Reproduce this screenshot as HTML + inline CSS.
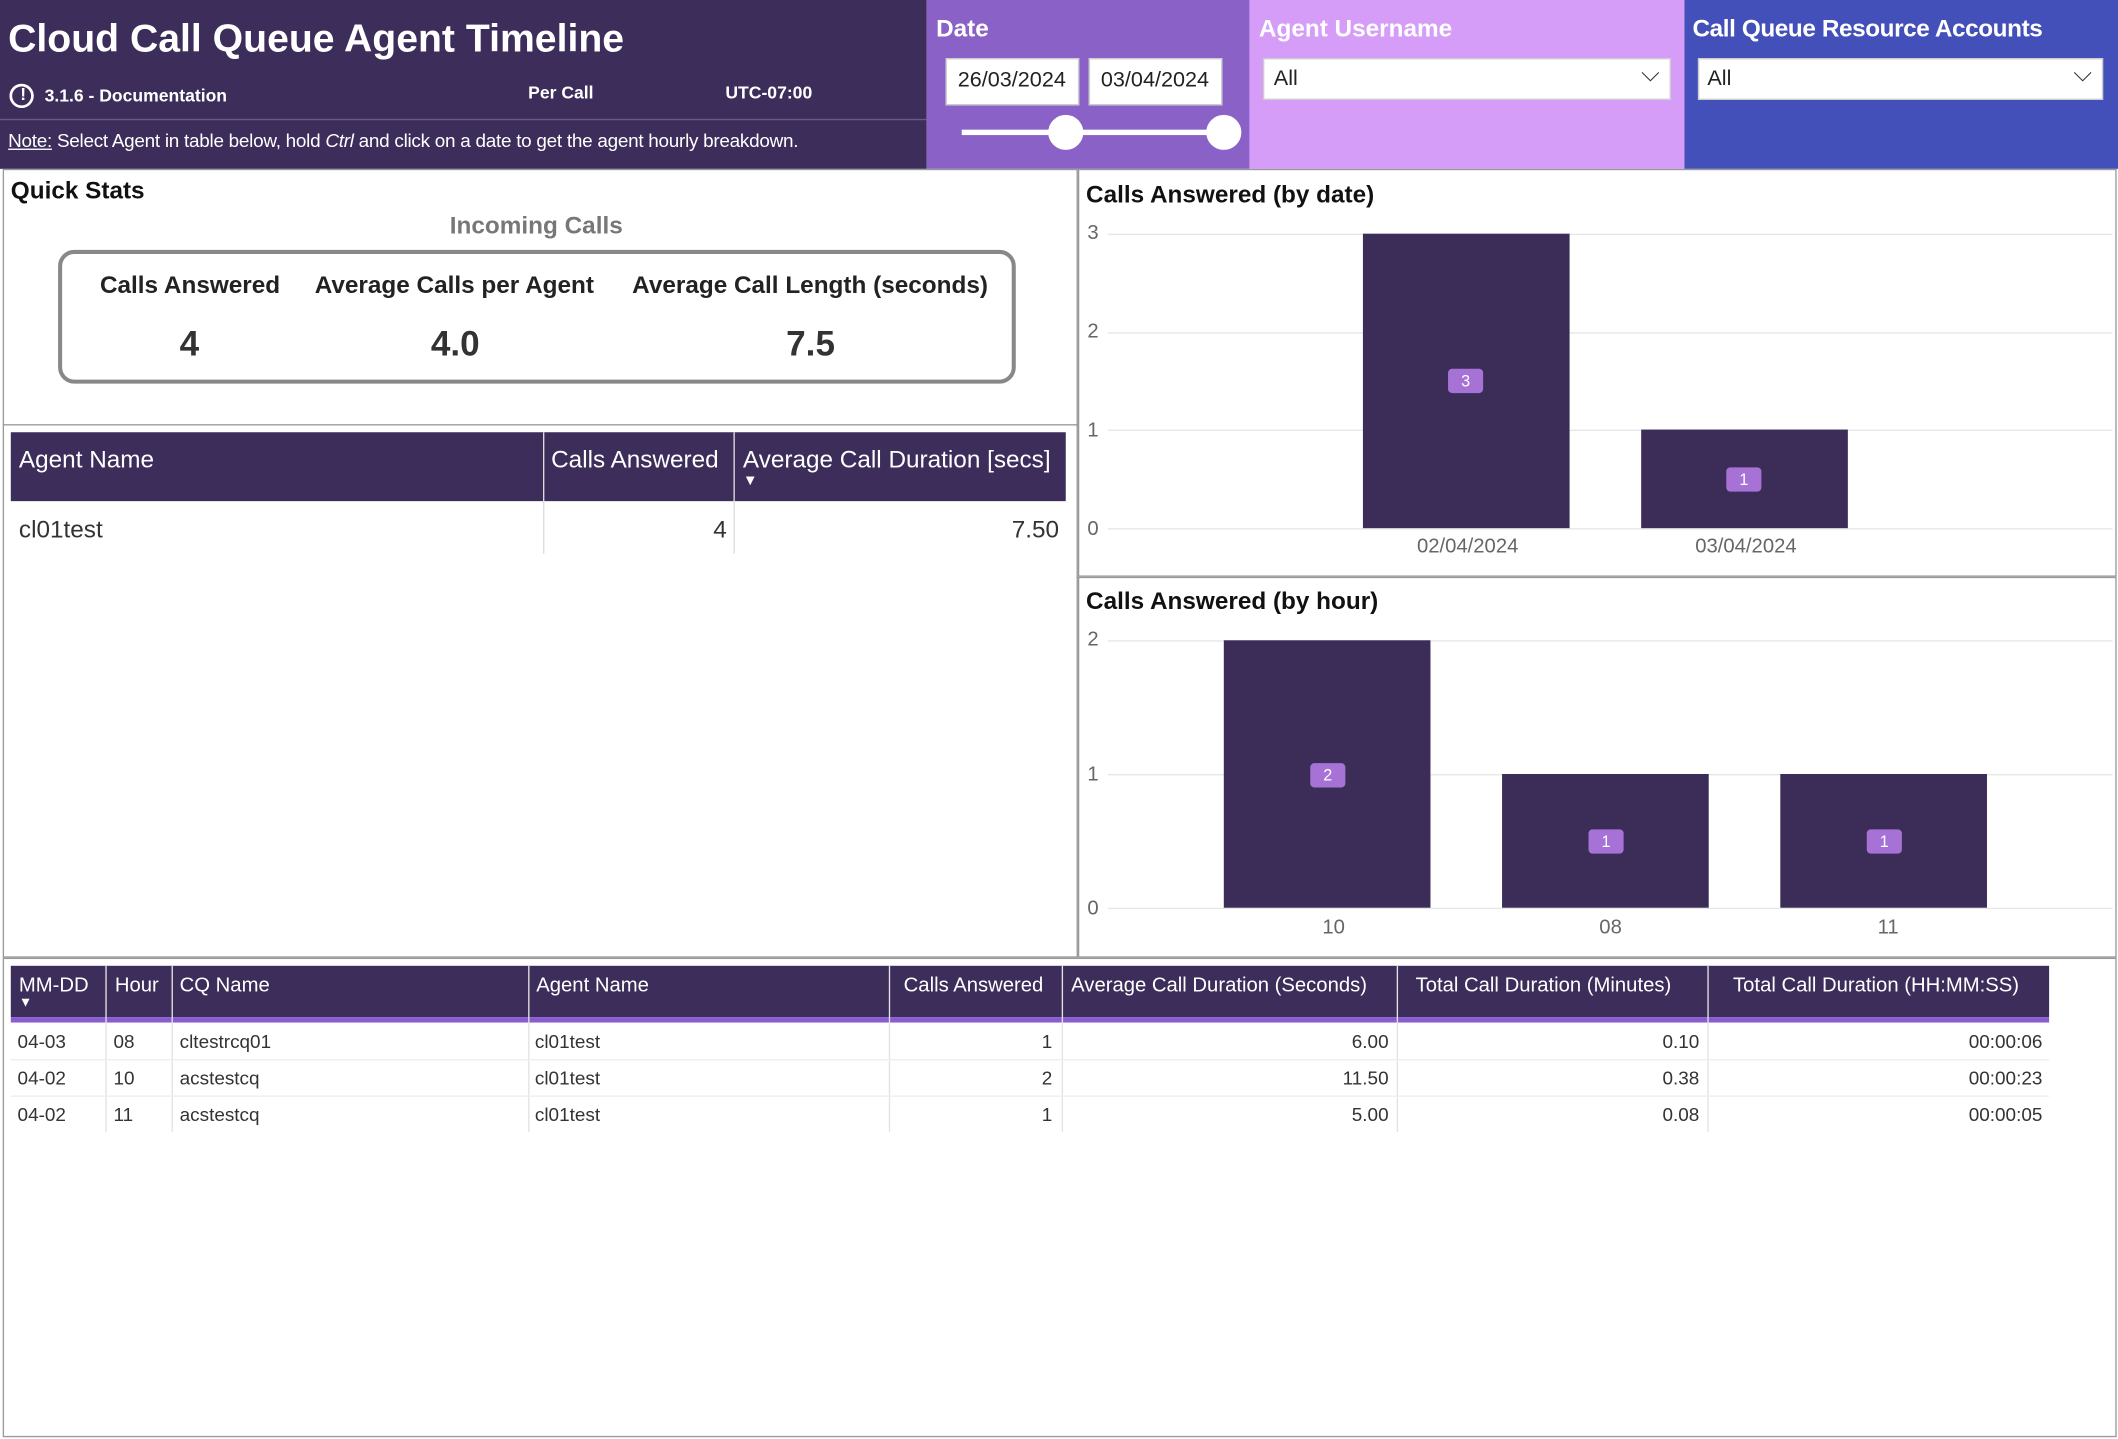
<!DOCTYPE html>
<html><head><meta charset="utf-8"><style>
*{box-sizing:border-box;margin:0;padding:0}
body{width:2118px;height:1438px;overflow:hidden;background:#fff;font-family:"Liberation Sans",sans-serif}
#w{position:absolute;left:0;top:0;width:1568px;height:1065px;transform:scale(1.35077);transform-origin:0 0}
.a{position:absolute}
.t{position:absolute;white-space:nowrap}
.bar{position:absolute;background:#3b2d58}
.badge{position:absolute;background:#a672d6;color:#fff;font-size:12px;width:26px;height:18px;line-height:18px;text-align:center;border-radius:3px}
.gl{position:absolute;height:1px;background:#e6e6e6}
.ax{position:absolute;font-size:15px;color:#666}
.th{position:absolute;color:#fff;font-size:15px}
.td{position:absolute;font-size:14px;color:#333}
</style></head><body><div id="w">
<div class="a" style="left:0;top:0;width:686px;height:125px;background:#3c2d5a"></div>
<div class="t" style="left:6px;top:13px;font-size:29px;font-weight:bold;color:#fff">Cloud Call Queue Agent Timeline</div>
<div class="a" style="left:7px;top:62px;width:18px;height:18px;border:2px solid #fff;border-radius:50%"></div>
<div class="t" style="left:15px;top:62px;font-size:13px;font-weight:bold;color:#fff">!</div>
<div class="t" style="left:33px;top:63px;font-size:13px;font-weight:bold;color:#fff">3.1.6 - Documentation</div>
<div class="t" style="left:391px;top:61px;font-size:13px;font-weight:bold;color:#fff">Per Call</div>
<div class="t" style="left:537px;top:61px;font-size:13px;font-weight:bold;color:#fff">UTC-07:00</div>
<div class="a" style="left:0;top:88px;width:686px;height:1px;background:#6a5a88"></div>
<div class="t" style="left:6px;top:96px;font-size:14px;color:#fff;letter-spacing:-0.2px"><u>Note:</u> Select Agent in table below, hold <i>Ctrl</i> and click on a date to get the agent hourly breakdown.</div>

<div class="a" style="left:686px;top:0;width:239px;height:125px;background:#8a62c7"></div>
<div class="t" style="left:693px;top:11px;font-size:18px;font-weight:bold;color:#fff">Date</div>
<div class="a" style="left:700px;top:43px;width:99px;height:35px;background:#fff;border:1px solid #ccc"></div>
<div class="t" style="left:709px;top:51px;font-size:16px;color:#222">26/03/2024</div>
<div class="a" style="left:806px;top:43px;width:99px;height:35px;background:#fff;border:1px solid #ccc"></div>
<div class="t" style="left:815px;top:51px;font-size:16px;color:#222">03/04/2024</div>
<div class="a" style="left:712px;top:96px;width:194px;height:4px;background:#fff"></div>
<div class="a" style="left:776px;top:85px;width:26px;height:26px;border-radius:50%;background:#fff"></div>
<div class="a" style="left:893px;top:85px;width:26px;height:26px;border-radius:50%;background:#fff"></div>

<div class="a" style="left:925px;top:0;width:322px;height:125px;background:#d59df8"></div>
<div class="t" style="left:932px;top:11px;font-size:18px;font-weight:bold;color:#fff">Agent Username</div>
<div class="a" style="left:935px;top:43px;width:302px;height:31px;background:#fff;border:1px solid #ccc"></div>
<div class="t" style="left:943px;top:50px;font-size:16px;color:#222">All</div>
<div class="t" style="left:1215px;top:44px;font-size:18px;color:#333">&#x2335;</div>

<div class="a" style="left:1247px;top:0;width:321px;height:125px;background:#4450b9"></div>
<div class="t" style="left:1253px;top:11px;font-size:18px;font-weight:bold;color:#fff;letter-spacing:-0.3px">Call Queue Resource Accounts</div>
<div class="a" style="left:1257px;top:43px;width:300px;height:31px;background:#fff;border:1px solid #ccc"></div>
<div class="t" style="left:1264px;top:50px;font-size:16px;color:#222">All</div>
<div class="t" style="left:1535px;top:44px;font-size:18px;color:#333">&#x2335;</div>

<div class="a" style="left:2px;top:125px;width:796px;height:584px;border:1px solid #999"></div>
<div class="t" style="left:8px;top:131px;font-size:18px;font-weight:bold;color:#111">Quick Stats</div>
<div class="t" style="left:333px;top:157px;font-size:18px;font-weight:bold;color:#777">Incoming Calls</div>
<div class="a" style="left:43px;top:185px;width:709px;height:99px;border:3px solid #888;border-radius:12px"></div>
<div class="t" style="left:74px;top:201px;font-size:18px;font-weight:bold;color:#222">Calls Answered</div>
<div class="t" style="left:233px;top:201px;font-size:18px;font-weight:bold;color:#222">Average Calls per Agent</div>
<div class="t" style="left:468px;top:201px;font-size:18px;font-weight:bold;color:#222">Average Call Length (seconds)</div>
<div class="t" style="left:133px;top:239px;font-size:26px;font-weight:bold;color:#333">4</div>
<div class="t" style="left:319px;top:239px;font-size:26px;font-weight:bold;color:#333">4.0</div>
<div class="t" style="left:582px;top:239px;font-size:26px;font-weight:bold;color:#333">7.5</div>
<div class="a" style="left:2px;top:314px;width:796px;height:1px;background:#999"></div>
<div class="a" style="left:8px;top:320px;width:781px;height:51px;background:#3c2d5a"></div>
<div class="a" style="left:402px;top:320px;width:1px;height:90px;background:#ddd"></div>
<div class="a" style="left:543px;top:320px;width:1px;height:90px;background:#ddd"></div>
<div class="th" style="left:14px;top:330px;font-size:18px">Agent Name</div>
<div class="th" style="left:408px;top:330px;font-size:18px">Calls Answered</div>
<div class="th" style="left:550px;top:330px;font-size:18px">Average Call Duration [secs]</div>
<div class="t" style="left:550px;top:350px;font-size:11px;color:#fff">&#9660;</div>
<div class="t" style="left:14px;top:382px;font-size:18px;color:#333">cl01test</div>
<div class="t" style="left:528px;top:382px;font-size:18px;color:#333">4</div>
<div class="t" style="left:749px;top:382px;font-size:18px;color:#333">7.50</div>

<div class="a" style="left:798px;top:125px;width:769px;height:302px;border:1px solid #999"></div>
<div class="t" style="left:804px;top:134px;font-size:18px;font-weight:bold;color:#111">Calls Answered (by date)</div>
<div class="gl" style="left:820px;top:173px;width:744px"></div>
<div class="gl" style="left:820px;top:246px;width:744px"></div>
<div class="gl" style="left:820px;top:318px;width:744px"></div>
<div class="gl" style="left:820px;top:391px;width:744px"></div>
<div class="ax" style="left:805px;top:164px">3</div><div class="ax" style="left:805px;top:237px">2</div>
<div class="ax" style="left:805px;top:310px">1</div><div class="ax" style="left:805px;top:383px">0</div>
<div class="bar" style="left:1009px;top:173px;width:153px;height:218px"></div>
<div class="bar" style="left:1215px;top:318px;width:153px;height:73px"></div>
<div class="badge" style="left:1072px;top:273px">3</div>
<div class="badge" style="left:1278px;top:346px">1</div>
<div class="ax" style="left:1049px;top:396px">02/04/2024</div>
<div class="ax" style="left:1255px;top:396px">03/04/2024</div>

<div class="a" style="left:798px;top:427px;width:769px;height:282px;border:1px solid #999"></div>
<div class="t" style="left:804px;top:435px;font-size:18px;font-weight:bold;color:#111">Calls Answered (by hour)</div>
<div class="gl" style="left:820px;top:474px;width:744px"></div>
<div class="gl" style="left:820px;top:573px;width:744px"></div>
<div class="gl" style="left:820px;top:672px;width:744px"></div>
<div class="ax" style="left:805px;top:465px">2</div><div class="ax" style="left:805px;top:565px">1</div><div class="ax" style="left:805px;top:664px">0</div>
<div class="bar" style="left:906px;top:474px;width:153px;height:198px"></div>
<div class="bar" style="left:1112px;top:573px;width:153px;height:99px"></div>
<div class="bar" style="left:1318px;top:573px;width:153px;height:99px"></div>
<div class="badge" style="left:970px;top:565px">2</div>
<div class="badge" style="left:1176px;top:614px">1</div>
<div class="badge" style="left:1382px;top:614px">1</div>
<div class="ax" style="left:979px;top:678px">10</div>
<div class="ax" style="left:1184px;top:678px">08</div>
<div class="ax" style="left:1390px;top:678px">11</div>

<div class="a" style="left:2px;top:709px;width:1565px;height:355px;border:1px solid #999"></div>
<div class="a" style="left:8px;top:715px;width:1509px;height:38px;background:#3c2d5a"></div>
<div class="a" style="left:8px;top:753px;width:1509px;height:4px;background:#8a5cd0"></div>
<div class="th" style="left:14px;top:721px">MM-DD</div>
<div class="t" style="left:14px;top:737px;font-size:10px;color:#fff">&#9660;</div>
<div class="th" style="left:85px;top:721px">Hour</div>
<div class="th" style="left:133px;top:721px">CQ Name</div>
<div class="th" style="left:397px;top:721px">Agent Name</div>
<div class="th" style="left:669px;top:721px">Calls Answered</div>
<div class="th" style="left:793px;top:721px">Average Call Duration (Seconds)</div>
<div class="th" style="left:1048px;top:721px">Total Call Duration (Minutes)</div>
<div class="th" style="left:1283px;top:721px">Total Call Duration (HH:MM:SS)</div>
<div class="a" style="left:78px;top:715px;width:1px;height:123px;background:#e3e3e3"></div>
<div class="a" style="left:127px;top:715px;width:1px;height:123px;background:#e3e3e3"></div>
<div class="a" style="left:391px;top:715px;width:1px;height:123px;background:#e3e3e3"></div>
<div class="a" style="left:658px;top:715px;width:1px;height:123px;background:#e3e3e3"></div>
<div class="a" style="left:786px;top:715px;width:1px;height:123px;background:#e3e3e3"></div>
<div class="a" style="left:1034px;top:715px;width:1px;height:123px;background:#e3e3e3"></div>
<div class="a" style="left:1264px;top:715px;width:1px;height:123px;background:#e3e3e3"></div>
<div class="a" style="left:8px;top:784px;width:1509px;height:1px;background:#eee"></div>
<div class="a" style="left:8px;top:811px;width:1509px;height:1px;background:#eee"></div>

<div class="td" style="left:13px;top:763px">04-03</div><div class="td" style="left:84px;top:763px">08</div><div class="td" style="left:133px;top:763px">cltestrcq01</div><div class="td" style="left:396px;top:763px">cl01test</div>
<div class="td" style="right:789px;top:763px">1</div><div class="td" style="right:540px;top:763px">6.00</div><div class="td" style="right:310px;top:763px">0.10</div><div class="td" style="right:56px;top:763px">00:00:06</div>
<div class="td" style="left:13px;top:790px">04-02</div><div class="td" style="left:84px;top:790px">10</div><div class="td" style="left:133px;top:790px">acstestcq</div><div class="td" style="left:396px;top:790px">cl01test</div>
<div class="td" style="right:789px;top:790px">2</div><div class="td" style="right:540px;top:790px">11.50</div><div class="td" style="right:310px;top:790px">0.38</div><div class="td" style="right:56px;top:790px">00:00:23</div>
<div class="td" style="left:13px;top:817px">04-02</div><div class="td" style="left:84px;top:817px">11</div><div class="td" style="left:133px;top:817px">acstestcq</div><div class="td" style="left:396px;top:817px">cl01test</div>
<div class="td" style="right:789px;top:817px">1</div><div class="td" style="right:540px;top:817px">5.00</div><div class="td" style="right:310px;top:817px">0.08</div><div class="td" style="right:56px;top:817px">00:00:05</div>
</div></body></html>
